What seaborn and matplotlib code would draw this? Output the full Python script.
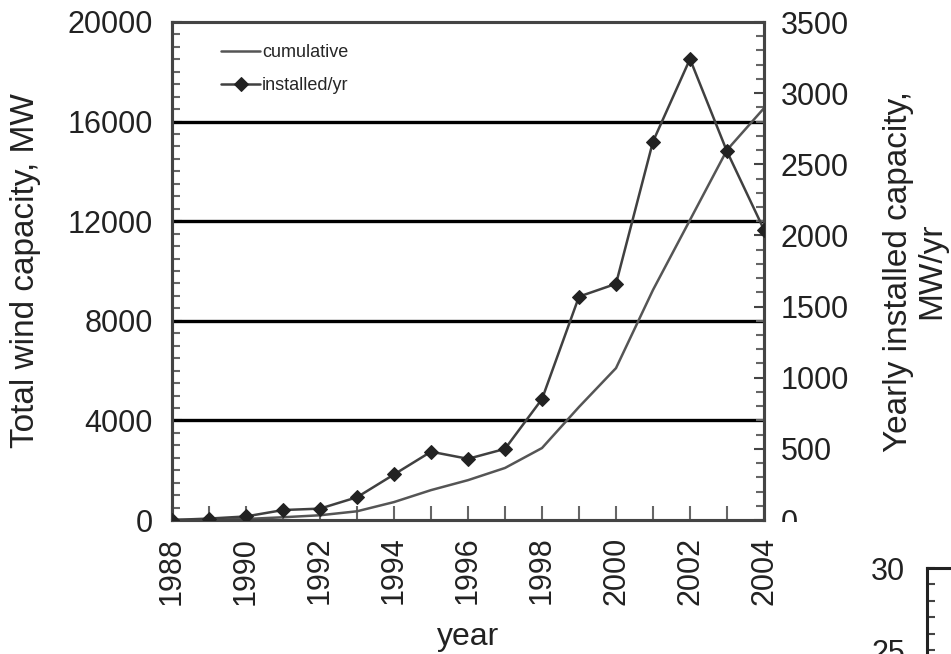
import numpy as np
import pandas as pd
import matplotlib
matplotlib.use("Agg")
import matplotlib.pyplot as plt
from matplotlib.ticker import MultipleLocator
from matplotlib.patches import Rectangle
import seaborn as sns

# ---- data ----
years = list(range(1988, 2005))
cumulative = [0, 10, 40, 110, 190, 350, 720, 1200, 1600, 2090, 2890,
              4540, 6100, 9240, 12050, 14860, 16540]
installed = [0, 10, 25, 70, 80, 160, 320, 480, 430, 500, 850,
             1570, 1660, 2660, 3240, 2590, 2040]
left_ticks = [0, 4000, 8000, 12000, 16000, 20000]
right_ticks = [0, 500, 1000, 1500, 2000, 2500, 3000, 3500]
x_tick_labels = [1988, 1990, 1992, 1994, 1996, 1998, 2000, 2002, 2004]
inset_ticks = [25, 30]

df = pd.DataFrame({"year": years, "cumulative": cumulative, "installed": installed})

sns.set_style("ticks")
plt.rcParams["font.family"] = ["Liberation Sans", "DejaVu Sans"]

W, H = 951, 654
fig = plt.figure(figsize=(W / 100, H / 100), dpi=100)
ax = fig.add_axes([172 / W, 1 - 520 / H, (764 - 172) / W, (520 - 22) / H])
ax2 = ax.twinx()

FS = 22
LFS = 24
spine_col = "#444444"
cum_col = "#555555"
inst_col = "#404040"

sns.lineplot(data=df, x="year", y="cumulative", ax=ax, color=cum_col,
             linewidth=1.8, label="cumulative", legend=False, zorder=4)
sns.lineplot(data=df, x="year", y="installed", ax=ax2, color=inst_col,
             linewidth=1.8, marker="D", markersize=7, markeredgecolor="#222222",
             markerfacecolor="#222222", label="installed/yr", legend=False, zorder=5)

ax.set_xlim(1988, 2004)
ax.set_ylim(0, 20000)
ax2.set_ylim(0, 3500)

# grid lines
for v in left_ticks[1:-1]:
    ax.axhline(v, color="black", linewidth=2.4, zorder=2)

ax.set_yticks(left_ticks)
ax.set_yticklabels([str(v) for v in left_ticks])
ax.yaxis.set_minor_locator(MultipleLocator(500))
ax2.set_yticks(right_ticks)
ax2.set_yticklabels([str(v) for v in right_ticks])
ax2.yaxis.set_minor_locator(MultipleLocator(100))
ax.set_xticks(x_tick_labels)
ax.set_xticklabels([str(v) for v in x_tick_labels], rotation=90)
ax.xaxis.set_minor_locator(MultipleLocator(1))

ax.tick_params(axis="y", which="major", direction="in", length=7, width=1.5,
               color=spine_col, labelsize=FS, pad=14, labelcolor="#222222")
ax.tick_params(axis="y", which="minor", direction="in", length=6, width=1.5,
               color="#666666")
ax2.tick_params(axis="y", which="major", direction="in", length=7, width=1.5,
                color=spine_col, labelsize=FS, pad=12, labelcolor="#222222")
ax2.tick_params(axis="y", which="minor", direction="in", length=6, width=1.5,
                color="#666666")
ax.tick_params(axis="x", which="both", direction="in", length=10, width=1.5,
               color="#666666", labelsize=FS, pad=12, labelcolor="#222222")

for a in (ax, ax2):
    for s in a.spines.values():
        s.set_color(spine_col)
        s.set_linewidth(2.2)
ax.spines["top"].set_color("#888888")

ax.set_xlabel("year", fontsize=23, color="#222222", labelpad=12)
ax.set_ylabel("Total wind capacity, MW", fontsize=LFS, color="#222222")
ax.yaxis.set_label_coords((41 - 172) / 592, 0.5)
ax2.set_ylabel("Yearly installed capacity,\nMW/yr", fontsize=LFS, color="#222222",
               multialignment="center", linespacing=1.1)
ax2.yaxis.set_label_coords((883 - 172) / 592, 0.5)

# legend
h1, l1 = ax.get_legend_handles_labels()
h2, l2 = ax2.get_legend_handles_labels()
leg = ax.legend(h1 + h2, l1 + l2, loc="upper left", bbox_to_anchor=(0.07, 0.97),
                frameon=False, fontsize=13, handlelength=2.2, handletextpad=0.1,
                labelspacing=0.9, borderaxespad=0)
leg.set_zorder(10)

# partial neighbouring chart at lower right
bot = -0.3
top = 1 - 568 / H
ax3 = fig.add_axes([927 / W, bot, 0.2, top - bot])
ax3.set_ylim(12.8, 30)
ax3.set_xlim(0, 1)
ax3.set_yticks(inset_ticks)
ax3.set_yticklabels([str(v) for v in inset_ticks])
ax3.yaxis.set_minor_locator(MultipleLocator(1))
ax3.set_xticks([])
ax3.tick_params(axis="y", which="both", direction="in", length=6, width=1.5,
                color="#444444", labelsize=FS, pad=16, labelcolor="#222222")
for s in ax3.spines.values():
    s.set_color("#222222")
    s.set_linewidth(2.2)

# white cover clipping the right "0" label as in the reference
fig.patches.append(Rectangle((778 / W, 1 - 556 / H), 90 / W, 34 / H,
                             transform=fig.transFigure, facecolor="white",
                             edgecolor="none", zorder=20))

fig.savefig("out.png", dpi=100)
